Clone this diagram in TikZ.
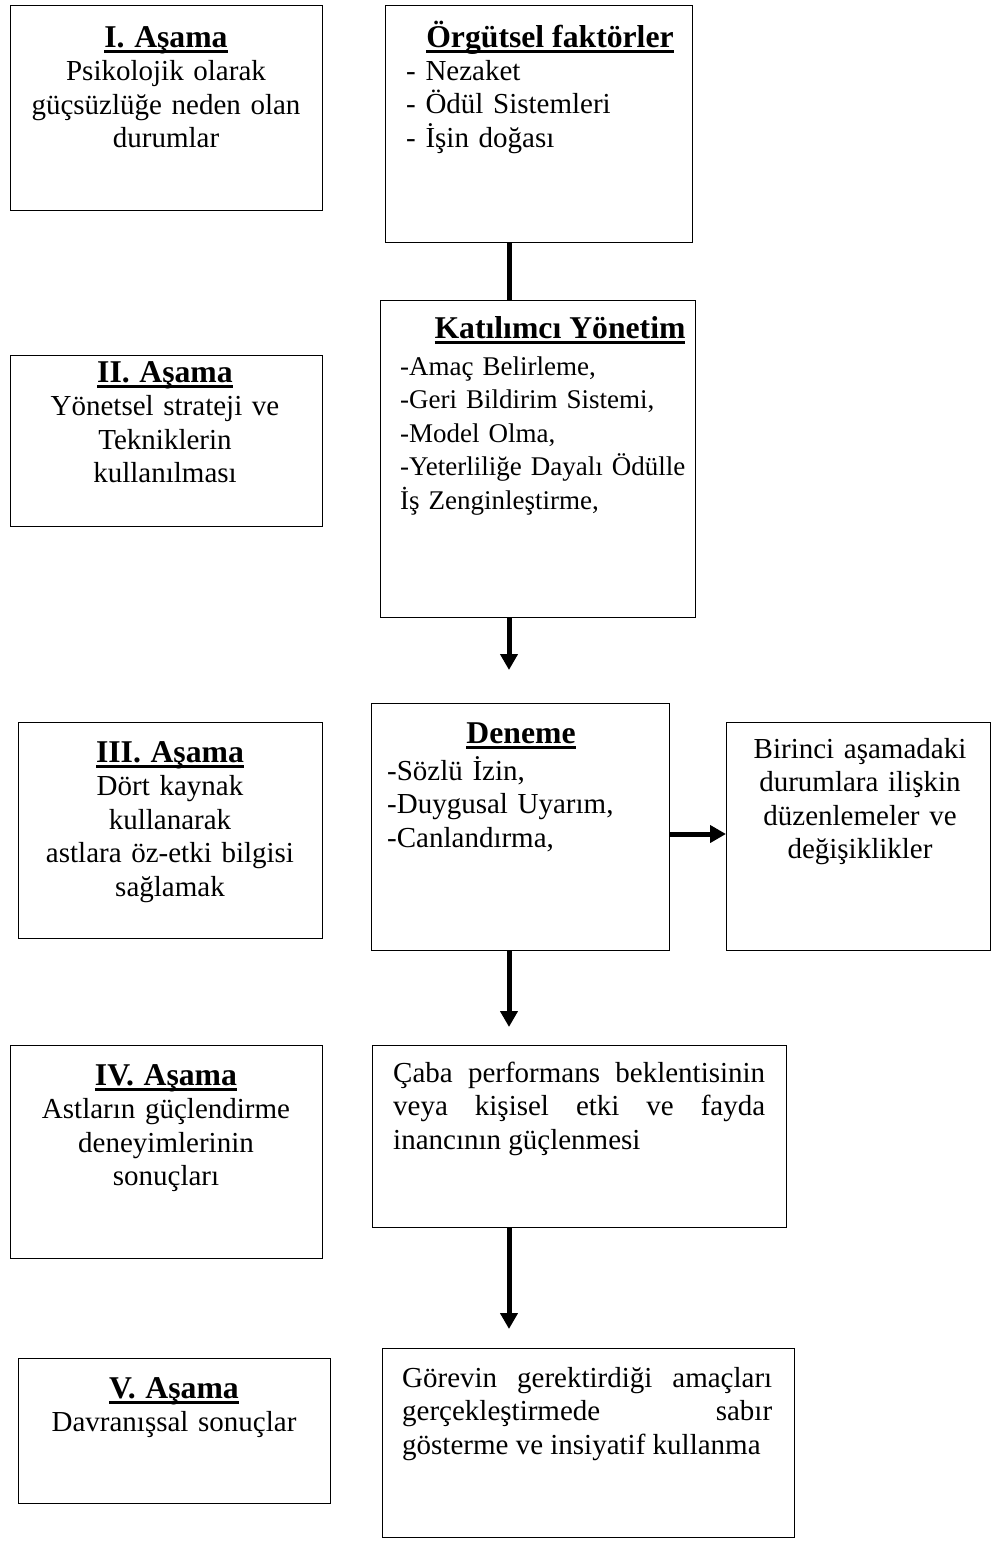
\documentclass[tikz,border=0pt]{standalone}
\usepackage{fontspec}
\setmainfont{Liberation Serif}
\usetikzlibrary{arrows.meta}
\newcommand{\baslik}[1]{\leavevmode{\setbox0\hbox{\fontsize{31.7}{33.5}\selectfont\bfseries #1}\dp0=0pt\vtop{\box0\kern3pt\hrule height 3pt}}}
\tikzset{
  box/.style={draw, line width=1.4pt, anchor=north west, inner sep=0pt},
  txt/.style={font=\fontsize{29}{33.5}\selectfont, inner sep=0pt, anchor=base},
  mitte/.style={txt, text width=300pt, align=center},
  liste/.style={txt, text width=290pt, align=left, anchor=base west},
  link/.style={line width=5pt},
  flow/.style={link, -{Triangle[width=17pt,length=16pt]}}
}

\begin{document}
\begin{tikzpicture}[x=1pt,y=-1pt]
    \useasboundingbox (0,0) rectangle (992,1542);

    \node[box, minimum width=312pt, minimum height=205pt] (s1) at (10,5) {};
    \node[box, minimum width=312pt, minimum height=171pt] (s2) at (10,355) {};
    \node[box, minimum width=304pt, minimum height=216pt] (s3) at (18,722) {};
    \node[box, minimum width=312pt, minimum height=213pt] (s4) at (10,1045) {};
    \node[box, minimum width=312pt, minimum height=145pt] (s5) at (18,1358) {};

    \node[mitte] (s1t) at (166,47) {\baslik{I. Aşama}\\Psikolojik olarak\\güçsüzlüğe neden olan\\durumlar};
    \node[mitte] (s2t) at (165,382) {\baslik{II. Aşama}\\Yönetsel strateji ve\\Tekniklerin\\kullanılması};
    \node[mitte] (s3t) at (170,762) {\baslik{III. Aşama}\\Dört kaynak\\kullanarak\\astlara öz-etki bilgisi\\sağlamak};
    \node[mitte] (s4t) at (166,1085) {\baslik{IV. Aşama}\\Astların güçlendirme\\deneyimlerinin\\sonuçları};
    \node[mitte] (s5t) at (174,1398) {\baslik{V. Aşama}\\Davranışsal sonuçlar};

    \node[box, minimum width=307pt, minimum height=237pt] (org) at (385,5) {};
    \node[txt] (orgt) at (550,47) {\baslik{Örgütsel faktörler}};
    \node[liste] (orgl) at (406,80) {- Nezaket\\- Ödül Sistemleri\\- İşin doğası};

    \node[box, minimum width=315pt, minimum height=317pt] (kat) at (380,300) {};
    \node[txt] (katt) at (560,338) {\baslik{Katılımcı Yönetim}};
    \node[liste, font=\fontsize{27}{33.5}\selectfont] (katl) at (400,375) {-Amaç Belirleme,\\-Geri Bildirim Sistemi,\\-Model Olma,\\-Yeterliliğe Dayalı Ödülle\\İş Zenginleştirme,};

    \node[box, minimum width=298pt, minimum height=247pt] (den) at (371,703) {};
    \node[txt] (dent) at (521,743) {\baslik{Deneme}};
    \node[liste] (denl) at (387,780) {-Sözlü İzin,\\-Duygusal Uyarım,\\-Canlandırma,};

    \node[box, minimum width=264pt, minimum height=228pt] (bir) at (726,722) {};
    \node[mitte, text width=256pt] (birt) at (860,758) {Birinci aşamadaki\\durumlara ilişkin\\düzenlemeler ve\\değişiklikler};

    \node[box, minimum width=414pt, minimum height=182pt] (caba) at (372,1045) {};
    \node[txt, anchor=base west, text width=372pt, align=justify] (cabat) at (393,1082) {Çaba performans beklentisinin\linebreak veya kişisel etki ve fayda\linebreak inancının güçlenmesi};

    \node[box, minimum width=412pt, minimum height=189pt] (gor) at (382,1348) {};
    \node[txt, anchor=base west, text width=370pt, align=justify] (gort) at (402,1387) {Görevin gerektirdiği amaçları\linebreak gerçekleştirmede sabır\linebreak gösterme ve insiyatif kullanma};

    \draw[link] ([xshift=124pt]org.south west) -- ([xshift=129pt]kat.north west);
    \draw[flow] ([xshift=129pt]kat.south west) -- ([xshift=138pt,yshift=33pt]den.north west);
    \draw[flow] ([yshift=-131pt]den.north east) -- ([yshift=-112pt]bir.north west);
    \draw[flow] ([xshift=138pt]den.south west) -- ([xshift=137pt,yshift=18pt]caba.north west);
    \draw[flow] ([xshift=137pt]caba.south west) -- ([xshift=127pt,yshift=19pt]gor.north west);
\end{tikzpicture}
\end{document}
